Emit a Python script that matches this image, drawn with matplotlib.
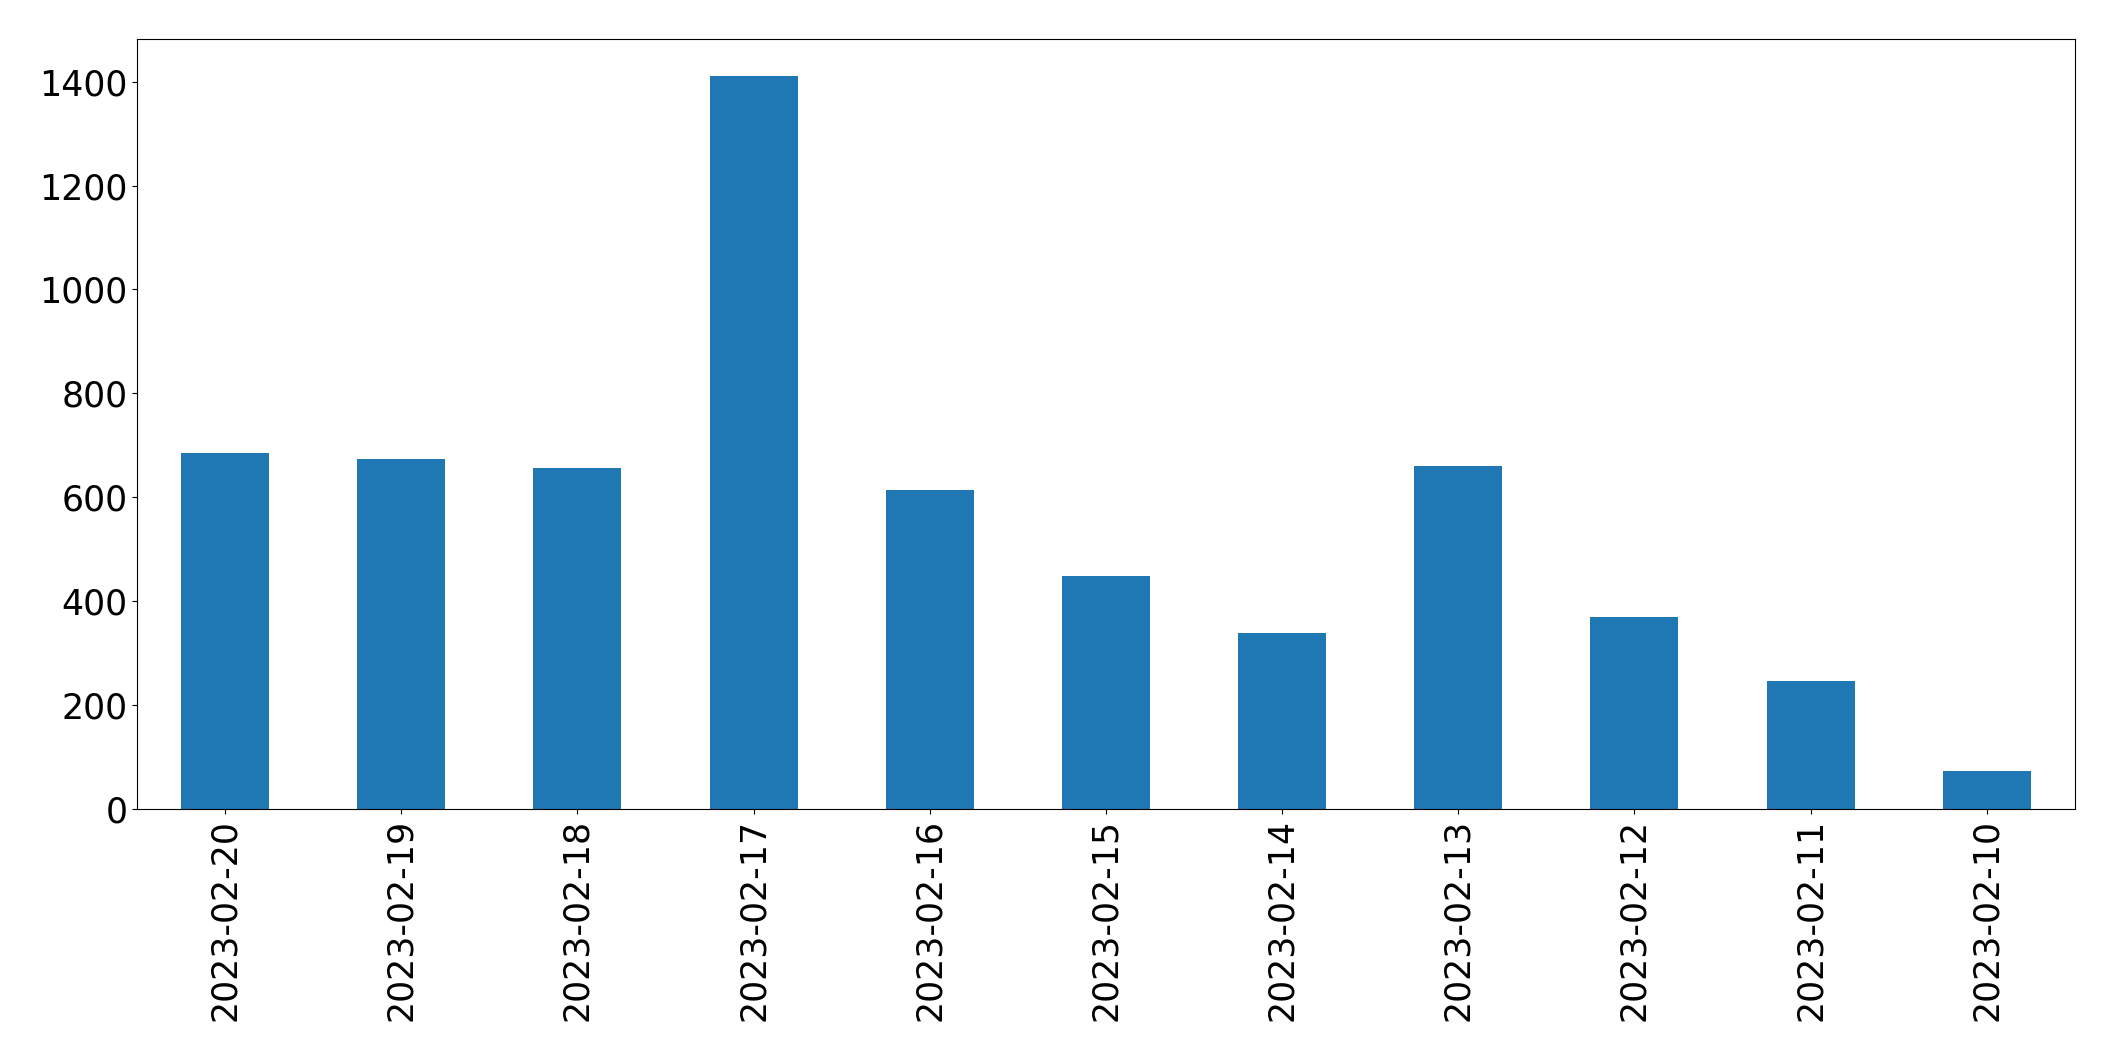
import matplotlib
matplotlib.use('Agg')
import matplotlib.pyplot as plt
import numpy as np

# Datos
dates = ['2023-02-20', '2023-02-19', '2023-02-18', '2023-02-17', '2023-02-16',
         '2023-02-15', '2023-02-14', '2023-02-13', '2023-02-12', '2023-02-11',
         '2023-02-10']
counts = [685, 674, 656, 1411, 614, 448, 338, 660, 369, 246, 73]

fig = plt.figure(figsize=(21.15, 10.61), dpi=100)
ax = fig.add_axes([0.0648, 0.2375, 0.9162, 0.7255])

x = np.arange(len(dates))
ax.bar(x, counts, width=0.5, color='#1f77b4')
ax.set_xlim(-0.5, len(dates) - 0.5)
ax.set_xticks(x)
ax.set_xticklabels(dates, rotation=90)
ax.tick_params(axis='both', labelsize=25)

plt.savefig('out.png', dpi=100)
